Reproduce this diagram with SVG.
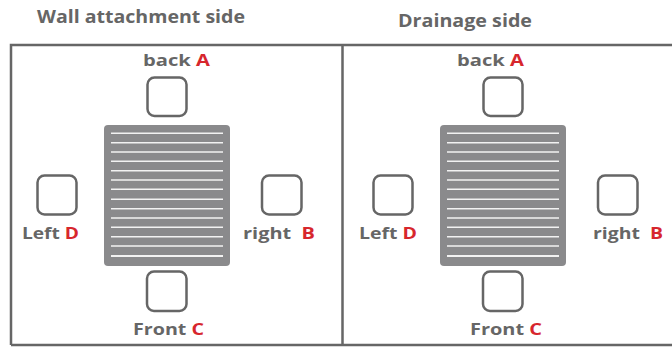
<svg xmlns="http://www.w3.org/2000/svg" width="672" height="349" viewBox="0 0 672 349">
<style>
.frame{fill:none;stroke:#666;stroke-width:2.5}
.box{fill:#fff;stroke:#666;stroke-width:2.5}
.grill{fill:#8a8a8c}
.slat{stroke:#f2f2f2;stroke-width:1.6}
.title{font-family:"Open Sans","Liberation Sans",sans-serif;font-weight:700;font-size:17px;fill:#666}
.lbl{font-family:"Open Sans","Liberation Sans",sans-serif;font-weight:700;font-size:16.5px;fill:#666;white-space:pre}
.red{fill:#d7262d}
</style>
<defs>
<g id="grillShape">
<rect class="grill" x="0" y="0" width="126" height="141" rx="4"/>
<g class="slat">
<line x1="7" x2="119" y1="8.3" y2="8.3"/>
<line x1="7" x2="119" y1="17.7" y2="17.7"/>
<line x1="7" x2="119" y1="27" y2="27"/>
<line x1="7" x2="119" y1="36.3" y2="36.3"/>
<line x1="7" x2="119" y1="45.7" y2="45.7"/>
<line x1="7" x2="119" y1="55" y2="55"/>
<line x1="7" x2="119" y1="64.3" y2="64.3"/>
<line x1="7" x2="119" y1="74.3" y2="74.3"/>
<line x1="7" x2="119" y1="83.7" y2="83.7"/>
<line x1="7" x2="119" y1="93" y2="93"/>
<line x1="7" x2="119" y1="102.3" y2="102.3"/>
<line x1="7" x2="119" y1="111.7" y2="111.7"/>
<line x1="7" x2="119" y1="121" y2="121"/>
<line x1="7" x2="119" y1="131" y2="131" stroke-width="2"/>
</g>
</g>
</defs>
<g id="frame">
<path class="frame" d="M11,345 V45 H672 M11,345 H672 M342.5,45 V345"/>
</g>
<g id="title-wall"><text class="title" x="37" y="23" textLength="208" lengthAdjust="spacingAndGlyphs">Wall attachment side</text></g>
<g id="title-drainage"><text class="title" x="398" y="27" textLength="134" lengthAdjust="spacingAndGlyphs">Drainage side</text></g>

<g id="wall-grill"><use href="#grillShape" x="104" y="125"/></g>
<g id="wall-back"><rect class="box" x="147.5" y="77.5" width="39" height="38.5" rx="7"/><text class="lbl" x="143" y="66" textLength="67" lengthAdjust="spacingAndGlyphs">back <tspan class="red">A</tspan></text></g>
<g id="wall-left"><rect class="box" x="37.5" y="175.5" width="39" height="39" rx="7"/><text class="lbl" x="22" y="238.5" textLength="57" lengthAdjust="spacingAndGlyphs">Left <tspan class="red">D</tspan></text></g>
<g id="wall-right"><rect class="box" x="262" y="175.5" width="39.5" height="39" rx="7"/><text class="lbl" x="243" y="238.5" textLength="72" lengthAdjust="spacingAndGlyphs">right  <tspan class="red">B</tspan></text></g>
<g id="wall-front"><rect class="box" x="147" y="271.5" width="39.5" height="39.5" rx="7"/><text class="lbl" x="133" y="335" textLength="71" lengthAdjust="spacingAndGlyphs">Front <tspan class="red">C</tspan></text></g>

<g id="drain-grill"><use href="#grillShape" x="440" y="125"/></g>
<g id="drain-back"><rect class="box" x="483.5" y="77.5" width="39" height="38.5" rx="7"/><text class="lbl" x="457" y="66" textLength="67" lengthAdjust="spacingAndGlyphs">back <tspan class="red">A</tspan></text></g>
<g id="drain-left"><rect class="box" x="373.5" y="175.5" width="39" height="39" rx="7"/><text class="lbl" x="359" y="238.5" textLength="58" lengthAdjust="spacingAndGlyphs">Left <tspan class="red">D</tspan></text></g>
<g id="drain-right"><rect class="box" x="598" y="175.5" width="39.5" height="39" rx="7"/><text class="lbl" x="593" y="238.5" textLength="70" lengthAdjust="spacingAndGlyphs">right  <tspan class="red">B</tspan></text></g>
<g id="drain-front"><rect class="box" x="483" y="271.5" width="39.5" height="39.5" rx="7"/><text class="lbl" x="470" y="335" textLength="72" lengthAdjust="spacingAndGlyphs">Front <tspan class="red">C</tspan></text></g>
</svg>
